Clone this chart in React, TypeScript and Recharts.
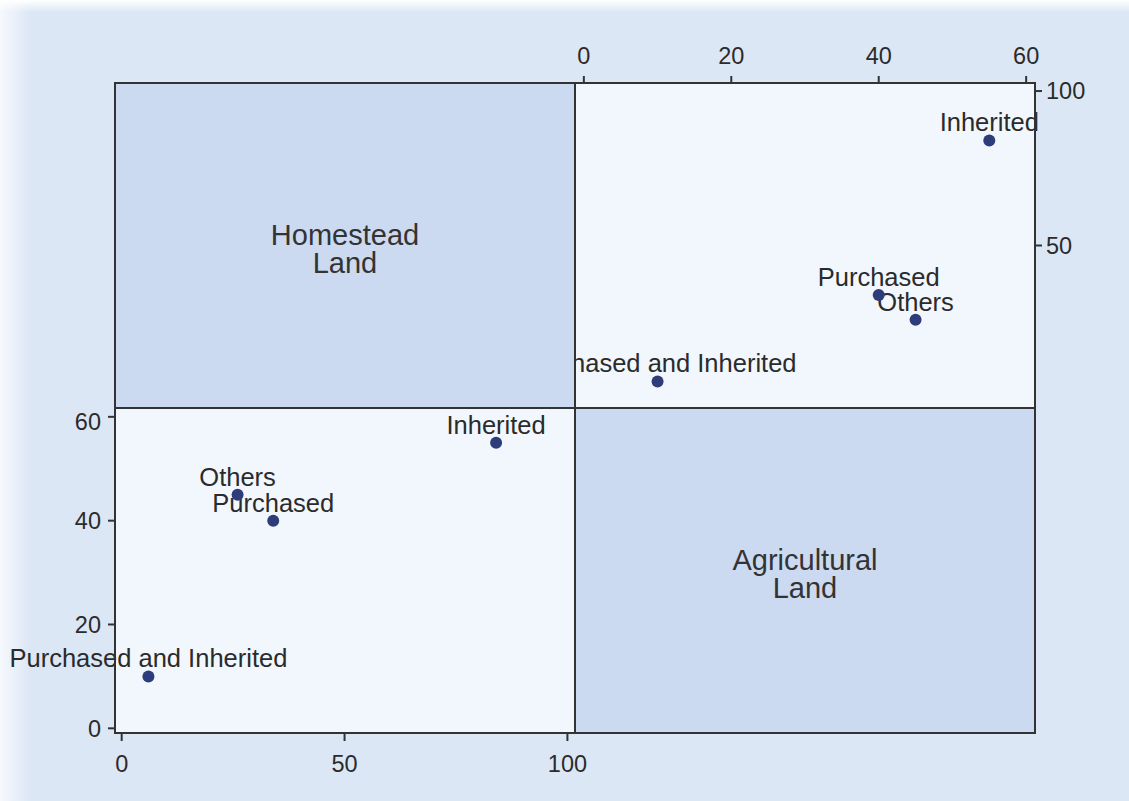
import React from "react";
import { ScatterChart, Scatter, XAxis, YAxis, CartesianGrid } from "recharts";

// land ownership type, one value per category in each variable
const categories = ["Purchased and Inherited", "Others", "Purchased", "Inherited"];
const homesteadLand = [6, 26, 34, 84];
const agriculturalLand = [10, 45, 40, 55];

const homesteadTicks = [0, 50, 100];
const agriculturalTicks = [0, 20, 40, 60];

const FONT = "'Liberation Sans', Arial, Helvetica, sans-serif";
const INK = "#2b2b2b";
const MARKER = "#2f3c7a";
const PANEL_FILL = "#f1f7fd";
const DIAG_FILL = "#cbd9f1";
const PAGE_BG = "#dce7f5";

// frame edges in page pixels
const LEFT = 115;
const MID_X = 575;
const RIGHT = 1035;
const TOP = 83;
const MID_Y = 408;
const BOTTOM = 733;

const lowerData = categories.map((name, i) => ({
  name,
  x: homesteadLand[i],
  y: agriculturalLand[i],
}));

const upperData = categories.map((name, i) => ({
  name,
  x: agriculturalLand[i],
  y: homesteadLand[i],
}));

const tickStyle = { fill: INK, fontSize: 23.5, fontFamily: FONT };
const tickLineStyle = { stroke: "#333", strokeWidth: 2 };

const renderLabel = (p: any) => (
  <text
    x={p.cx}
    y={p.cy - 9}
    textAnchor="middle"
    fontFamily={FONT}
    fontSize={25.5}
    fill={INK}
  >
    {p.payload.name}
  </text>
);

const renderMarker = (p: any) => <circle cx={p.cx} cy={p.cy} r={6} fill={MARKER} />;

function DiagonalPanel({
  left,
  top,
  width,
  height,
  lines,
}: {
  left: number;
  top: number;
  width: number;
  height: number;
  lines: string[];
}) {
  return (
    <div
      style={{
        position: "absolute",
        left,
        top,
        width,
        height,
        boxSizing: "border-box",
        paddingTop: 6,
        background: DIAG_FILL,
        display: "flex",
        flexDirection: "column",
        alignItems: "center",
        justifyContent: "center",
        fontFamily: FONT,
        fontSize: 29,
        lineHeight: "28px",
        color: "#333",
      }}
    >
      {lines.map((l) => (
        <div key={l}>{l}</div>
      ))}
    </div>
  );
}

const line = (style: React.CSSProperties) => (
  <div style={{ position: "absolute", background: "#333", ...style }} />
);

export default function App() {
  const upperW = 1129 - MID_X;
  const upperTop = 20;
  const lowerW = MID_X + 40;
  const lowerH = 801 - MID_Y;

  return (
    <div
      style={{
        position: "absolute",
        left: 0,
        top: 0,
        width: 1129,
        height: 801,
        overflow: "hidden",
        background: `linear-gradient(to right, #f6f9fd 0px, ${PAGE_BG} 30px)`,
      }}
    >
      <div
        style={{
          position: "absolute",
          left: 0,
          top: 0,
          width: 1129,
          height: 12,
          background: "linear-gradient(to bottom, #ffffff, rgba(255,255,255,0))",
        }}
      />

      {/* upper right: x = agricultural, y = homestead */}
      <div style={{ position: "absolute", left: MID_X, top: upperTop }}>
        <ScatterChart
          width={upperW}
          height={MID_Y - upperTop}
          margin={{ top: TOP - upperTop - 40, right: upperW - (RIGHT - MID_X) - 60, bottom: 0, left: 0 }}
        >
          <CartesianGrid fill={PANEL_FILL} horizontal={false} vertical={false} />
          <XAxis
            type="number"
            dataKey="x"
            orientation="top"
            height={40}
            domain={[-1.2, 61.2]}
            ticks={agriculturalTicks}
            axisLine={false}
            tickSize={7}
            tickMargin={12}
            tick={tickStyle}
            tickLine={tickLineStyle}
          />
          <YAxis
            type="number"
            dataKey="y"
            orientation="right"
            width={60}
            domain={[-2.6, 102.6]}
            ticks={homesteadTicks}
            axisLine={false}
            tickSize={7}
            tickMargin={4}
            tick={{ ...tickStyle, textAnchor: "start" }}
            tickLine={tickLineStyle}
          />
          <Scatter data={upperData} shape={renderLabel} isAnimationActive={false} />
          <Scatter data={upperData} shape={renderMarker} isAnimationActive={false} />
        </ScatterChart>
      </div>

      {/* lower left: x = homestead, y = agricultural */}
      <div style={{ position: "absolute", left: 0, top: MID_Y }}>
        <ScatterChart
          width={lowerW}
          height={lowerH}
          margin={{ top: 0, right: lowerW - MID_X, bottom: lowerH - (BOTTOM - MID_Y) - 40, left: LEFT - 60 }}
        >
          <CartesianGrid fill={PANEL_FILL} horizontal={false} vertical={false} />
          <XAxis
            type="number"
            dataKey="x"
            height={40}
            domain={[-1.5, 101.7]}
            ticks={homesteadTicks}
            axisLine={false}
            tickSize={8}
            tickMargin={14}
            tick={tickStyle}
            tickLine={tickLineStyle}
          />
          <YAxis
            type="number"
            dataKey="y"
            width={60}
            domain={[-0.9, 61.7]}
            ticks={agriculturalTicks}
            axisLine={false}
            tickSize={7}
            tickMargin={7}
            tick={tickStyle}
            tickLine={tickLineStyle}
          />
          <Scatter data={lowerData} shape={renderLabel} isAnimationActive={false} />
          <Scatter data={lowerData} shape={renderMarker} isAnimationActive={false} />
        </ScatterChart>
      </div>

      <DiagonalPanel
        left={LEFT}
        top={TOP}
        width={MID_X - LEFT}
        height={MID_Y - TOP}
        lines={["Homestead", "Land"]}
      />
      <DiagonalPanel
        left={MID_X}
        top={MID_Y}
        width={RIGHT - MID_X}
        height={BOTTOM - MID_Y}
        lines={["Agricultural", "Land"]}
      />

      {/* frame */}
      {line({ left: LEFT - 1, top: TOP - 1, width: RIGHT - LEFT + 2, height: 2 })}
      {line({ left: LEFT - 1, top: BOTTOM - 1, width: RIGHT - LEFT + 2, height: 2 })}
      {line({ left: LEFT - 1, top: TOP - 1, width: 2, height: BOTTOM - TOP + 2 })}
      {line({ left: RIGHT - 1, top: TOP - 1, width: 2, height: BOTTOM - TOP + 2 })}
      {line({ left: MID_X - 1, top: TOP, width: 2, height: BOTTOM - TOP })}
      {line({ left: LEFT, top: MID_Y - 1, width: RIGHT - LEFT, height: 2 })}
    </div>
  );
}
